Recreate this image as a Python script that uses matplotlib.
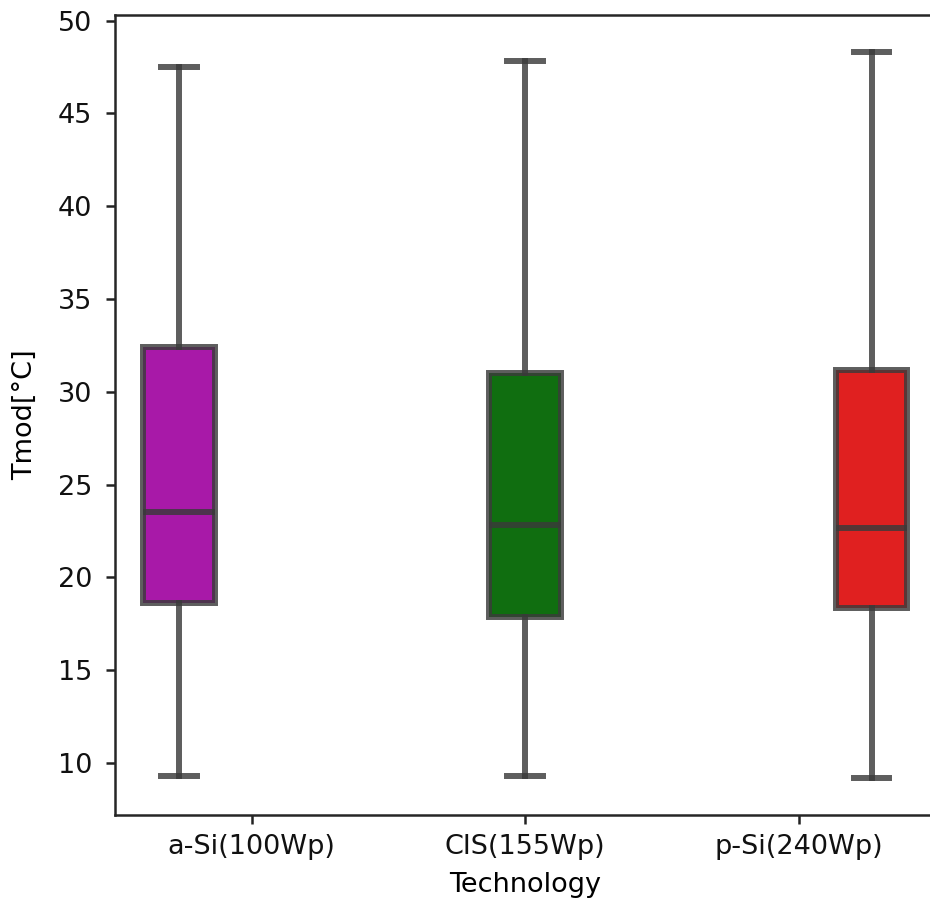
import matplotlib.pyplot as plt
import numpy as np

# Estatísticas (°C)
tecnologias = ['a-Si(100Wp)', 'CIS(155Wp)', 'p-Si(240Wp)']
whis_inf = [9.30, 9.30, 9.19]
q1 = [18.63, 17.87, 18.36]
medianas = [23.53, 22.83, 22.67]
q3 = [32.43, 31.02, 31.19]
whis_sup = [47.52, 47.84, 48.33]
cores = ['#A819A8', '#106E10', '#E02020']

stats = []
for nome, lo, a, m, b, hi in zip(tecnologias, whis_inf, q1, medianas, q3, whis_sup):
    stats.append(dict(label=nome, whislo=lo, q1=a, med=m, q3=b, whishi=hi, fliers=[]))

fig = plt.figure(figsize=(9.3, 9.07), dpi=100)
ax = fig.add_axes([0.1237, 0.1014, 0.882, 0.8821])

# deslocamento do hue (dodge) como no seaborn
n = len(tecnologias)
larg = 0.8 / n
pos = np.arange(n) + (np.arange(n) - (n - 1) / 2) * larg

linha = dict(color='#3a3a3a', alpha=0.82, linewidth=4.3)
bp = ax.bxp(stats, positions=pos, widths=larg * 0.98, capwidths=larg * 0.49,
            patch_artist=True, showfliers=False,
            boxprops=dict(edgecolor=(0.23, 0.23, 0.23, 0.82), linewidth=4.3),
            whiskerprops=linha, capprops=linha, medianprops=linha)
for caixa, c in zip(bp['boxes'], cores):
    caixa.set_facecolor(c)

ax.set_xlim(-0.5, 2.5)
ax.set_ylim(7.2, 50.3)
ax.set_xticks(range(n))
ax.set_xticklabels(tecnologias)
ax.set_yticks(range(10, 51, 5))
ax.tick_params(labelsize=19.5, length=6.5, width=1.8, colors='#222222', labelcolor='#111111')
ax.tick_params(axis='x', pad=7)
ax.tick_params(axis='y', pad=10)
for s in ax.spines.values():
    s.set_linewidth(1.8)
    s.set_color('#262626')

ax.set_xlabel('Technology', fontsize=19.5, labelpad=9)
ax.set_ylabel('Tmod[°C]', fontsize=19.5, labelpad=14)

fig.savefig('out.png', dpi=100)
